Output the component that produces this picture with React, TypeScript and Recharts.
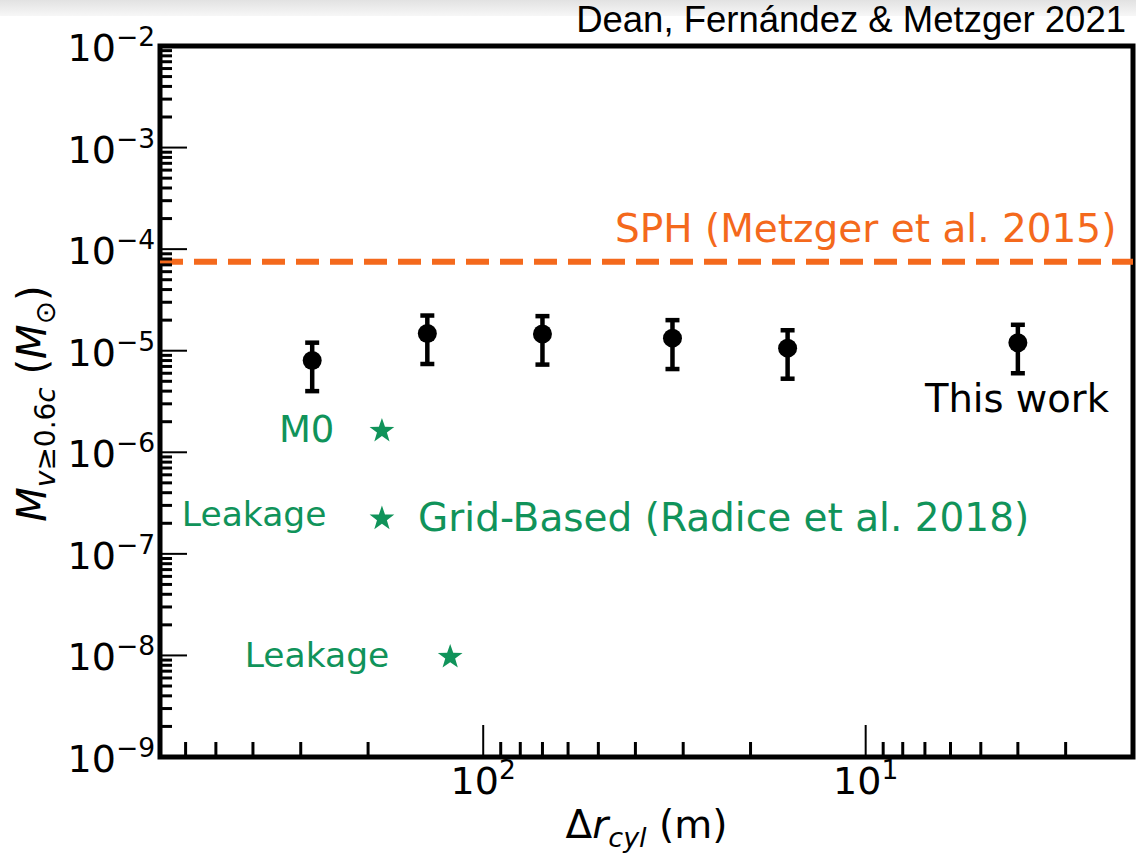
import React from 'react';
import {
  ScatterChart,
  Scatter,
  XAxis,
  YAxis,
  ErrorBar,
  ReferenceLine,
  ReferenceArea,
  ReferenceDot,
} from 'recharts';

// this work: resolution (m) vs fast ejecta mass (Msun)
const deltaR = [280, 140, 70, 32, 16, 4.0];
const fastMass = [8.0e-6, 1.48e-5, 1.46e-5, 1.33e-5, 1.06e-5, 1.2e-5];
const fastMassErr = [4.0e-6, 7.4e-6, 7.3e-6, 6.7e-6, 5.3e-6, 6.0e-6];

// grid-based runs (Radice et al. 2018)
const gridR = [184, 184, 122];
const gridMass = [1.68e-6, 2.3e-7, 1.0e-8];

// SPH level (Metzger et al. 2015)
const sphMass = 7.5e-5;

const xDomain = [2, 700];
const yDomain = [1e-9, 1e-2];
const xDecades = [0, 1, 2];
const yDecades = [-9, -8, -7, -6, -5, -4, -3];
const minorSteps = [1, 2, 3, 4, 5, 6, 7, 8, 9];

const noteText = [
  'SPH (Metzger et al. 2015)',
  'This work',
  'M0',
  'Leakage',
  'Grid-Based (Radice et al. 2018)',
  'Leakage',
];
const noteX = [2.21, 7.0, 245, 257, 148, 176];
const noteY = [1.61e-4, 3.4e-6, 1.66e-6, 2.45e-7, 2.3e-7, 1.0e-8];

const FONT = '"DejaVu Sans", sans-serif';
const GREEN = '#10935a';
const ORANGE = '#f4691c';

const noteStyle = [
  { anchor: 'end', color: ORANGE, size: 39 },
  { anchor: 'start', color: '#000', size: 38.5 },
  { anchor: 'end', color: GREEN, size: 37 },
  { anchor: 'end', color: GREEN, size: 34.5 },
  { anchor: 'start', color: GREEN, size: 39 },
  { anchor: 'end', color: GREEN, size: 34.5 },
];

const thisWork = deltaR.map((x, i) => ({ x, y: fastMass[i], err: [fastMassErr[i], fastMassErr[i]] }));
const gridRuns = gridR.map((x, i) => ({ x, y: gridMass[i] }));

const logTicks = (decades: number[], lo: number, hi: number) => {
  const out: number[] = [];
  decades.forEach((d) => {
    minorSteps.forEach((m) => out.push(m * Math.pow(10, d)));
  });
  out.push(Math.pow(10, decades[decades.length - 1] + 1));
  return out.filter((v) => v >= lo * 0.999 && v <= hi * 1.001);
};

const xTicks = logTicks(xDecades, xDomain[0], xDomain[1]);
const yTicks = logTicks(yDecades, yDomain[0], yDomain[1]);

const isMajor = (v: number) => {
  const l = Math.log10(v);
  return Math.abs(l - Math.round(l)) < 1e-6;
};

const Power = ({ x, y, exp, anchor }: { x: number; y: number; exp: number; anchor: string }) => (
  <text x={x} y={y} textAnchor={anchor} fontFamily={FONT} fontSize={38} fill="#000">
    10
    <tspan dy={-15} fontSize={26.5}>
      {exp < 0 ? '\u2212' + Math.abs(exp) : String(exp)}
    </tspan>
  </text>
);

const YTick = (props: any) => {
  const { x, y, payload } = props;
  const major = isMajor(payload.value);
  return (
    <g>
      <line x1={x} x2={x + (major ? 27 : 12)} y1={y} y2={y} stroke="#000" strokeWidth={major ? 2 : 3} />
      {major && <Power x={x - 5} y={y + 15} exp={Math.round(Math.log10(payload.value))} anchor="end" />}
    </g>
  );
};

const XTick = (props: any) => {
  const { x, y, payload } = props;
  const major = isMajor(payload.value);
  return (
    <g>
      <line x1={x} x2={x} y1={y} y2={y - (major ? 32 : 15)} stroke="#000" strokeWidth={major ? 2 : 3} />
      {major && <Power x={x} y={y + 37} exp={Math.round(Math.log10(payload.value))} anchor="middle" />}
    </g>
  );
};

const YLabel = (props: any) => {
  const vb = props.viewBox;
  const cx = vb.x + vb.width - 114;
  const cy = vb.y + vb.height / 2 + 2;
  return (
    <text transform={`translate(${cx},${cy}) rotate(-90)`} textAnchor="middle" fontFamily={FONT} fontSize={40} fill="#000">
      <tspan fontStyle="italic">M</tspan>
      <tspan fontSize={28} dy={9} fontStyle="italic">v</tspan>
      <tspan fontSize={28}>{'\u2265'}0.6</tspan>
      <tspan fontSize={28} fontStyle="italic">c</tspan>
      <tspan dy={-9}>{' ('}</tspan>
      <tspan fontStyle="italic">M</tspan>
      <tspan fontSize={28} dy={9}>{'\u2299'}</tspan>
      <tspan dy={-9}>)</tspan>
    </text>
  );
};

const XLabel = (props: any) => {
  const vb = props.viewBox;
  return (
    <text x={vb.x + vb.width / 2} y={vb.y + 81} textAnchor="middle" fontFamily={FONT} fontSize={39} fill="#000">
      <tspan>{'\u0394'}</tspan>
      <tspan fontStyle="italic">r</tspan>
      <tspan fontSize={27} dy={9} fontStyle="italic">cyl</tspan>
      <tspan dy={-9}>{' (m)'}</tspan>
    </text>
  );
};

const Dot = (props: any) => <circle cx={props.cx} cy={props.cy} r={9.5} fill="#000" />;

const Star = (props: any) => {
  const { cx, cy } = props;
  const R = 13;
  const r = 5.2;
  const pts: string[] = [];
  for (let i = 0; i < 10; i++) {
    const a = -Math.PI / 2 + (i * Math.PI) / 5;
    const rad = i % 2 === 0 ? R : r;
    pts.push(`${cx + rad * Math.cos(a)},${cy + 1.5 + rad * Math.sin(a)}`);
  }
  return <polygon points={pts.join(' ')} fill={GREEN} />;
};

const makeNote = (text: string, anchor: string, color: string, size: number) => (props: any) => {
  const vb = props.viewBox;
  return (
    <text x={vb.x} y={vb.y} textAnchor={anchor} dominantBaseline="central" fontFamily={FONT} fontSize={size} fill={color}>
      {text}
    </text>
  );
};

export default function App() {
  return (
    <div style={{ position: 'absolute', left: 0, top: 0, width: 1136, height: 854, background: '#fff', overflow: 'hidden' }}>
      <div
        style={{
          position: 'absolute',
          left: 0,
          top: 0,
          width: 1136,
          height: 16,
          background: 'linear-gradient(to bottom, #e2e2e2, #f7f7f7)',
        }}
      />
      <div
        style={{
          position: 'absolute',
          right: 10,
          top: 2,
          fontFamily: '"Liberation Sans", Arial, sans-serif',
          fontSize: 36.5,
          lineHeight: 1,
          color: '#000',
          whiteSpace: 'nowrap',
        }}
      >
        Dean, Fernández &amp; Metzger 2021
      </div>
      <ScatterChart width={1136} height={854} margin={{ top: 46, right: 3, bottom: 96, left: 159 }}>
        <XAxis
          type="number"
          dataKey="x"
          scale="log"
          domain={xDomain}
          reversed
          allowDataOverflow
          ticks={xTicks}
          interval={0}
          tick={(p: any) => <XTick {...p} />}
          tickLine={false}
          axisLine={false}
          tickSize={0}
          tickMargin={0}
          height={1}
          label={(p: any) => <XLabel {...p} />}
        />
        <YAxis
          type="number"
          dataKey="y"
          scale="log"
          domain={yDomain}
          allowDataOverflow
          ticks={yTicks}
          interval={0}
          tick={(p: any) => <YTick {...p} />}
          tickLine={false}
          axisLine={false}
          tickSize={0}
          tickMargin={0}
          width={1}
          label={(p: any) => <YLabel {...p} />}
        />
        <ReferenceLine y={sphMass} stroke={ORANGE} strokeWidth={6} strokeDasharray="23 11" />
        <Scatter data={thisWork} shape={Dot} isAnimationActive={false}>
          <ErrorBar dataKey="err" direction="y" width={7} strokeWidth={4.5} stroke="#000" />
        </Scatter>
        <Scatter data={gridRuns} shape={Star} isAnimationActive={false} />
        {noteText.map((t, i) => (
          <ReferenceDot
            key={i}
            x={noteX[i]}
            y={noteY[i]}
            r={0}
            fill="none"
            stroke="none"
            ifOverflow="visible"
            label={makeNote(t, noteStyle[i].anchor, noteStyle[i].color, noteStyle[i].size)}
          />
        ))}
        <ReferenceArea
          x1={xDomain[1]}
          x2={xDomain[0]}
          y1={yDomain[0]}
          y2={yDomain[1]}
          fill="none"
          stroke="#000"
          strokeWidth={5}
          ifOverflow="visible"
        />
      </ScatterChart>
    </div>
  );
}
